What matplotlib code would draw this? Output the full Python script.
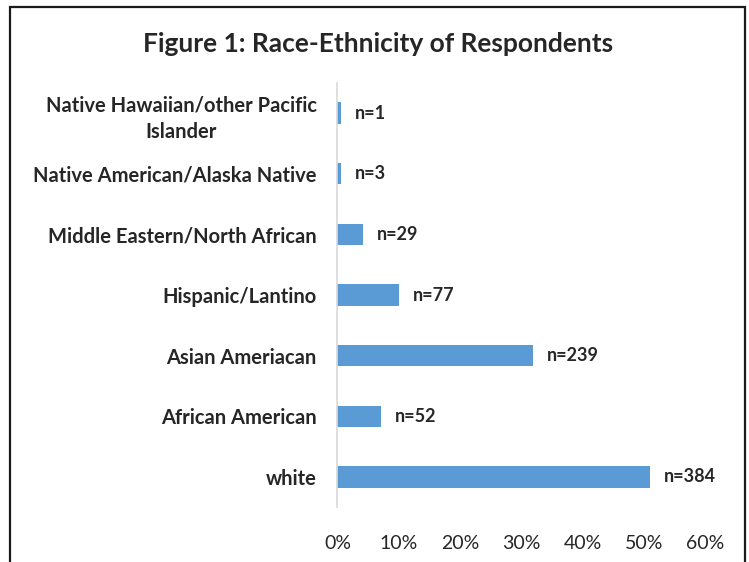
import matplotlib.pyplot as plt
from matplotlib.patches import Rectangle
from matplotlib.ticker import FuncFormatter

# categories from bottom to top, as in the chart
categories = ['white', 'African American', 'Asian Ameriacan', 'Hispanic/Lantino',
              'Middle Eastern/North African', 'Native American/Alaska Native',
              'Native Hawaiian/other Pacific\nIslander']
counts = [384, 52, 239, 77, 29, 3, 1]
percent = [50.9, 7.1, 31.9, 10.0, 4.1, 0.6, 0.6]
xticks = [0, 10, 20, 30, 40, 50, 60]

plt.rcParams['font.family'] = ['Lato', 'DejaVu Sans']
text_color = '#262626'
bar_color = '#5B9BD5'

fig = plt.figure(figsize=(7.49, 5.62), dpi=100)
ax = fig.add_axes([0.4506, 0.0973, 0.4911, 0.7555])

y = range(len(categories))
ax.barh(y, percent, height=0.35, color=bar_color)

# n= labels right of bars
for yi, p, n in zip(y, percent, counts):
    ax.annotate(f'n={n}', (p, yi), xytext=(10, 0), textcoords='offset points',
                ha='left', va='center', fontsize=13, fontweight='bold', color=text_color)

ax.set_xlim(0, 60)
ax.set_ylim(-0.5, len(categories) - 0.5)
ax.set_xticks(xticks)
ax.xaxis.set_major_formatter(FuncFormatter(lambda v, pos: f'{v:.0f}%'))
ax.set_yticks(list(y))
ax.set_yticklabels(categories)
for lbl in ax.get_yticklabels():
    lbl.set_multialignment('center')
    lbl.set_fontweight('bold')
    lbl.set_linespacing(1.45)
ax.tick_params(axis='y', length=0, pad=15, labelsize=14.5, labelcolor=text_color)
ax.tick_params(axis='x', length=0, pad=20, labelsize=14, labelcolor=text_color)

for s in ['top', 'right', 'bottom']:
    ax.spines[s].set_visible(False)
ax.spines['left'].set_color('#D9D9D9')
ax.spines['left'].set_linewidth(1.2)

fig.text(0.505, 0.922, 'Figure 1: Race-Ethnicity of Respondents', ha='center', va='center',
         fontsize=19, fontweight='bold', color=text_color)

# chart border (bottom edge is cut off in the reference)
fig.patches.append(Rectangle((10 / 749, -0.05), 735 / 749, 1.05 - 7 / 562, transform=fig.transFigure,
                             fill=False, edgecolor='#1a1a1a', linewidth=1.6))

fig.savefig('out.png', dpi=100, facecolor='white')
